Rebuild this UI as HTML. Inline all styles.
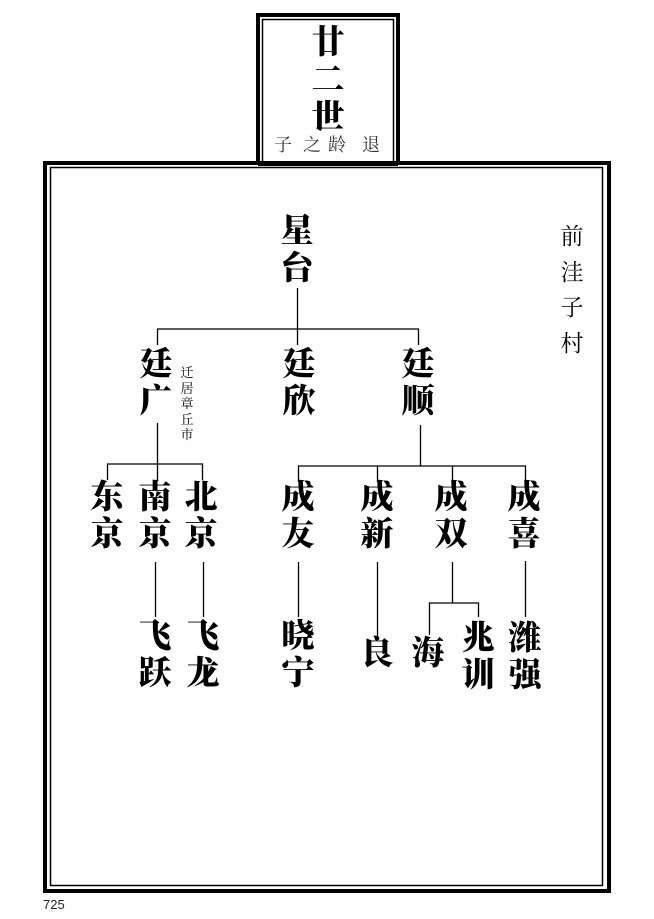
<!DOCTYPE html>
<html><head><meta charset="utf-8"><style>
html,body{margin:0;padding:0;background:#fff;}
body{width:654px;height:919px;position:relative;overflow:hidden;}
.c{position:absolute;width:40px;text-align:center;font-family:"Liberation Serif","Noto Serif CJK SC",serif;font-weight:900;font-size:33px;line-height:37px;color:#000;}
.s{position:absolute;width:20px;text-align:center;font-family:"Liberation Serif","Noto Serif CJK SC",serif;font-size:13px;line-height:15.5px;color:#000;}
.l{position:absolute;width:30px;text-align:center;font-family:"Liberation Serif","Noto Serif CJK SC",serif;font-size:23px;line-height:35.5px;color:#000;}
.t{position:absolute;width:24px;text-align:center;top:133px;font-family:"Liberation Serif","Noto Serif CJK SC",serif;font-size:18px;line-height:24px;color:#333;}
</style></head><body>
<svg width="654" height="919" style="position:absolute;left:0;top:0">
<g fill="none" stroke="#000">
<rect x="45" y="163" width="564" height="728" stroke-width="4"/>
<rect x="50.5" y="167.5" width="552" height="718" stroke-width="1.5"/>
<rect x="258" y="15" width="140" height="148" stroke-width="4"/>
<rect x="262.5" y="19.5" width="131" height="143" stroke-width="1.5"/>
</g>
<rect x="258" y="161" width="140" height="5" fill="#000"/>
<g stroke="#000" stroke-width="1.3" fill="none">
<path d="M297.5 288V329M157.5 345V329H418.5V345M297.5 329V345"/>
<path d="M157.5 423V464M107.5 480V464H202.5V480M157.5 464V480"/>
<path d="M420.5 425V466M298.5 482V466H525.5V482M377.5 466V482M452.5 466V482"/>
<path d="M155.5 562V617M203.5 562V617M298.5 562V617M377.5 562V640M525.5 561V617"/>
<path d="M452.5 562V603M429.5 635V603H478.5V617"/>
</g>
</svg>
<div class="c" style="left:308px;top:25px;font-size:33px;line-height:37.5px;width:40px">廿<br>二<br>世</div>
<div class="t" style="left:271px">子</div>
<div class="t" style="left:300px">之</div>
<div class="t" style="left:325px">龄</div>
<div class="t" style="left:359px">退</div>
<div class="c" style="left:277px;top:214px">星<br>台</div>
<div class="c" style="left:136px;top:347px">廷<br>广</div>
<div class="s" style="left:177px;top:365px">迁<br>居<br>章<br>丘<br>市</div>
<div class="c" style="left:279px;top:347px">廷<br>欣</div>
<div class="c" style="left:398px;top:347px">廷<br>顺</div>
<div class="c" style="left:87px;top:480px">东<br>京</div>
<div class="c" style="left:135px;top:480px">南<br>京</div>
<div class="c" style="left:181px;top:480px">北<br>京</div>
<div class="c" style="left:278px;top:480px">成<br>友</div>
<div class="c" style="left:357px;top:480px">成<br>新</div>
<div class="c" style="left:431px;top:480px">成<br>双</div>
<div class="c" style="left:504px;top:480px">成<br>喜</div>
<div class="c" style="left:135px;top:619px">飞<br>跃</div>
<div class="c" style="left:183px;top:619px">飞<br>龙</div>
<div class="c" style="left:278px;top:619px">晓<br>宁</div>
<div class="c" style="left:357px;top:636px">良</div>
<div class="c" style="left:408px;top:636px">海</div>
<div class="c" style="left:458px;top:621px">兆<br>训</div>
<div class="c" style="left:505px;top:621px">潍<br>强</div>
<div class="l" style="left:557px;top:219px">前<br>洼<br>子<br>村</div>
<div style="position:absolute;left:43px;top:897px;font-family:'Liberation Sans',sans-serif;font-size:13px;color:#222">725</div>
</body></html>
